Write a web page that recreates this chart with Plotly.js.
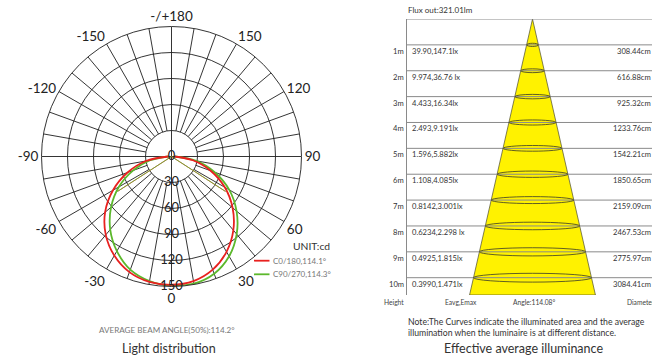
<!DOCTYPE html>
<html><head><meta charset="utf-8">
<script src="https://cdn.plot.ly/plotly-3.0.1.min.js"></script>
<style>html,body{margin:0;padding:0;background:#fff}#chart{width:652px;height:357px}</style>
</head><body><div id="chart"></div>
<script>
// ---- Light distribution (polar) data ----
const curveAngles = [-90,-80,-70,-60,-50,-40,-30,-20,-10,0,10,20,30,40,50,60,70,80,90];
const c0_180  = [4,30,54,78,100,118,132,142,147,148,146,139,127,111,92,71,48,25,3];
const c90_270 = [3,25,47,70,91,110,126,139,146,149,149,144,133,117,98,77,53,29,4];
// beam-angle rays (half angles of each plane)
const c0_beamAngles  = [-57.05, 0, 57.05];
const c0_beamValues  = [74, 0, 74];
const c90_beamAngles = [-57.15, 0, 57.15];
const c90_beamValues = [74.5, 0, 74.5];
const angTickVals = [0,30,60,90,120,150,180,210,240,270,300,330];
const angTickText = ["0","30","60","90","120","150","-/+180","-150","-120","-90","-60","-30"];
const radTickVals = [0,30,60,90,120,150];
const legendNames = ["C0/180,114.1°","C90/270,114.3°"];

// ---- Effective average illuminance data ----
const heights = [1,2,3,4,5,6,7,8,9,10];
const heightLabels = ["1m","2m","3m","4m","5m","6m","7m","8m","9m","10m"];
const eavgEmax = ["39.90,147.1lx","9.974,36.76 lx","4.433,16.34lx","2.493,9.191lx","1.596,5.882lx","1.108,4.085lx","0.8142,3.001lx","0.6234,2.298 lx","0.4925,1.815lx","0.3990,1.471lx"];
const diameters = ["308.44cm","616.88cm","925.32cm","1233.76cm","1542.21cm","1850.65cm","2159.09cm","2467.53cm","2775.97cm","3084.41cm"];
const fluxText = "Flux out:321.01lm";
const angleText = "Angle:114.08°";

const W = 652, H = 357;
const px = x => x / W, py = y => 1 - y / H;
const FONT = "Lato, 'Open Sans', sans-serif";
const RED = "#e8211f", GREEN = "#5cb82c", GRID = "#1e1e1e";

// polar geometry
const cx = 171.5, cy = 156.5, R = 130;

// spokes (grid)
const spR = [], spT = [];
for (let a = 0; a < 360; a += 10) {
  spR.push(a % 90 === 0 ? 0 : 30, 150, null);
  spT.push(a, a, null);
}

const traces = [];
traces.push({type:'scatterpolar', r:spR, theta:spT, mode:'lines', line:{color:GRID,width:0.9},
  hoverinfo:'skip', showlegend:false, connectgaps:false});
traces.push({type:'scatterpolar', r:c0_beamValues, theta:c0_beamAngles, mode:'lines', line:{color:RED,width:0.8}, showlegend:false});
traces.push({type:'scatterpolar', r:c90_beamValues, theta:c90_beamAngles, mode:'lines', line:{color:GREEN,width:0.8}, showlegend:false});
traces.push({type:'scatterpolar', r:c90_270, theta:curveAngles, mode:'lines', line:{color:GREEN,width:1.8,shape:'spline'}, showlegend:false});
traces.push({type:'scatterpolar', r:c0_180, theta:curveAngles, mode:'lines', line:{color:RED,width:1.8,shape:'spline'}, showlegend:false});
traces.push({type:'scatterpolar', r:radTickVals, theta:radTickVals.map(()=>0), mode:'text',
  text:radTickVals.map(String), textposition:'middle center',
  textfont:{family:FONT,size:13,color:"#222"}, showlegend:false, hoverinfo:'skip'});

// ---- right diagram ----
const yTop = 19, yBot = 295, pxPerM = 25.87;
const hMax = (yBot - yTop) / pxPerM;
const coneSlope = 5.9; // px of half width per metre (drawing)
const xLeft = 380, coneX = 532.5;
traces.push({type:'scatter', xaxis:'x', yaxis:'y', x:[0,-coneSlope*hMax,coneSlope*hMax,0], y:[0,hMax,hMax,0],
  mode:'lines', fill:'toself', fillcolor:'#fff200', line:{color:'#4a4a30',width:0.7}, hoverinfo:'skip', showlegend:false});

const shapes = [];
const annotations = [];
const boxL = 406.5 - coneX, boxR = 660 - coneX;
[0].concat(heights).forEach(h => {
  shapes.push({type:'line', xref:'x', yref:'y', x0:boxL, x1:boxR, y0:h, y1:h, line:{color:'#8a8a8a',width:1}, layer:'above'});
});
shapes.push({type:'line', xref:'x', yref:'y', x0:boxL, x1:boxL, y0:0, y1:hMax, line:{color:'#8a8a8a',width:1}});
heights.forEach(h => {
  const hw = coneSlope*h, eh = 0.05 + 0.012*h;
  shapes.push({type:'circle', xref:'x', yref:'y', x0:-hw, x1:hw, y0:h-eh, y1:h+eh, line:{color:'#3a3a2a',width:0.8}, layer:'above'});
});
const small = {family:FONT, size:7.6, color:'#333'};
heights.forEach((h,i) => {
  const yy = h + 6/pxPerM;
  annotations.push({xref:'x', yref:'y', x:boxL-1.5, y:yy, text:heightLabels[i], showarrow:false, xanchor:'right', yanchor:'middle', font:small, borderpad:0});
  annotations.push({xref:'x', yref:'y', x:boxL+4, y:yy, text:eavgEmax[i], showarrow:false, xanchor:'left', yanchor:'middle', font:small, borderpad:0});
  annotations.push({xref:'x', yref:'y', x:652-coneX, y:yy, text:diameters[i], showarrow:false, xanchor:'right', yanchor:'middle', font:small, borderpad:0});
});
// bottom header row
const hdrY = py(302);
annotations.push({xref:'paper', yref:'paper', x:px(394), y:hdrY, text:'Height', showarrow:false, xanchor:'center', yanchor:'middle', font:{family:FONT,size:6.7,color:'#444'}});
annotations.push({xref:'paper', yref:'paper', x:px(461), y:hdrY, text:'Eavg,Emax', showarrow:false, xanchor:'center', yanchor:'middle', font:{family:FONT,size:6.7,color:'#444'}});
annotations.push({xref:'paper', yref:'paper', x:px(534), y:hdrY, text:angleText, showarrow:false, xanchor:'center', yanchor:'middle', font:{family:FONT,size:6.7,color:'#444'}});
annotations.push({xref:'paper', yref:'paper', x:px(625), y:hdrY, text:'Diameter', showarrow:false, xanchor:'left', yanchor:'middle', font:{family:FONT,size:6.7,color:'#444'}});
annotations.push({xref:'paper', yref:'paper', x:px(406), y:py(10), text:fluxText, showarrow:false, xanchor:'left', yanchor:'middle', font:{family:FONT,size:8,color:'#333'}});
annotations.push({xref:'paper', yref:'paper', x:px(406), y:py(326.5), text:'Note:The Curves indicate the illuminated area and the average<br>illumination when the luminaire is at different distance.', showarrow:false, xanchor:'left', yanchor:'middle', align:'left', font:{family:FONT,size:8.7,color:'#333'}});
annotations.push({xref:'paper', yref:'paper', x:px(523), y:py(348.5), text:'Effective average illuminance', showarrow:false, xanchor:'center', yanchor:'middle', font:{family:FONT,size:12.5,color:'#333'}});
// left texts
annotations.push({xref:'paper', yref:'paper', x:px(166.5), y:py(330), text:'AVERAGE BEAM ANGLE(50%):114.2°', showarrow:false, xanchor:'center', yanchor:'middle', font:{family:FONT,size:8.1,color:'#777'}});
annotations.push({xref:'paper', yref:'paper', x:px(168.5), y:py(348), text:'Light distribution', showarrow:false, xanchor:'center', yanchor:'middle', font:{family:FONT,size:12.5,color:'#333'}});
annotations.push({xref:'paper', yref:'paper', x:px(291), y:py(246), text:'UNIT:cd', showarrow:false, xanchor:'left', yanchor:'middle', font:{family:FONT,size:10.3,color:'#333'}});
// legend
[[RED,260.7],[GREEN,274.3]].forEach((c,i) => {
  shapes.push({type:'line', xref:'paper', yref:'paper', x0:px(254), x1:px(269.5), y0:py(c[1]), y1:py(c[1]), line:{color:c[0],width:1.8}});
  annotations.push({xref:'paper', yref:'paper', x:px(272), y:py(c[1]), text:legendNames[i], showarrow:false, xanchor:'left', yanchor:'middle', font:{family:FONT,size:8,color:'#777'}, borderpad:0});
});

const layout = {
  width:W, height:H, margin:{l:0,r:0,t:0,b:0}, paper_bgcolor:'#fff', plot_bgcolor:'rgba(0,0,0,0)',
  showlegend:false, font:{family:FONT},
  polar:{
    domain:{x:[px(cx-R), px(cx+R)], y:[py(cy+R), py(cy-R)]},
    bgcolor:'rgba(0,0,0,0)',
    radialaxis:{range:[0,150], tickvals:[30,60,90,120,150], showticklabels:false, ticks:'', showline:false,
      gridcolor:GRID, gridwidth:0.9},
    angularaxis:{rotation:-90, direction:'counterclockwise', tickvals:angTickVals, ticktext:angTickText,
      showgrid:false, ticks:'', showline:true, linecolor:GRID, linewidth:0.9,
      tickfont:{family:FONT,size:13.5,color:'#222'}}
  },
  xaxis:{domain:[px(xLeft),1], range:[xLeft-coneX, W-coneX], visible:false, fixedrange:true},
  yaxis:{domain:[py(yBot), py(yTop)], range:[hMax,0], visible:false, fixedrange:true},
  shapes:shapes, annotations:annotations
};
Plotly.newPlot('chart', traces, layout, {staticPlot:true, displayModeBar:false});
</script></body></html>
